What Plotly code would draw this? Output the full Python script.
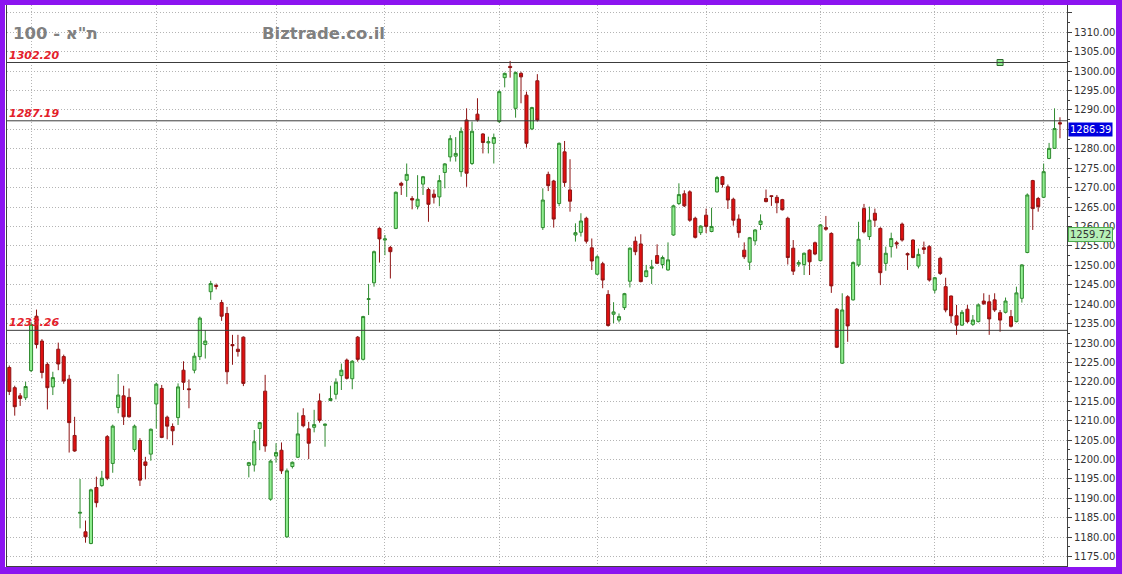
import plotly.graph_objects as go

# ---------------- data ----------------
opens = [1223.7, 1218.5, 1216.4, 1215.9, 1222.9, 1236.9, 1230.5, 1224.5, 1218.7, 1228.4,
         1226.5, 1220.7, 1206.2, 1186.2, 1181.4, 1178.4, 1192.8, 1193.3, 1205.9, 1199.0,
         1213.4, 1216.4, 1216.0, 1202.6, 1204.9, 1199.4, 1201.4, 1214.3, 1218.3, 1210.9,
         1208.5, 1210.8, 1223.0, 1218.2, 1223.0, 1226.5, 1229.6, 1243.2, 1244.8, 1240.4,
         1237.6, 1229.6, 1228.4, 1231.5, 1198.5, 1198.6, 1208.0, 1217.6, 1189.8, 1200.9,
         1202.4, 1180.1, 1198.2, 1200.6, 1211.3, 1207.9, 1208.3, 1215.1, 1208.8, 1215.2,
         1216.8, 1221.6, 1225.6, 1220.8, 1231.5, 1225.8, 1241.2, 1245.5, 1259.5, 1256.5,
         1254.6, 1259.5, 1271.1, 1271.9, 1267.2, 1265.2, 1270.9, 1269.5, 1268.3, 1267.6,
         1273.9, 1277.9, 1278.1, 1274.1, 1287.4, 1276.2, 1288.9, 1283.8, 1281.5, 1281.4,
         1287.0, 1298.3, 1301.2, 1290.4, 1299.4, 1293.8, 1285.1, 1297.5, 1259.7, 1273.4,
         1271.7, 1265.9, 1279.2, 1269.4, 1257.8, 1258.5, 1262.1, 1254.5, 1247.7, 1250.4,
         1242.5, 1237.4, 1235.9, 1239.1, 1245.9, 1256.2, 1255.5, 1247.1, 1249.2, 1252.5,
         1250.2, 1248.8, 1257.8, 1265.9, 1268.4, 1268.9, 1262.1, 1258.4, 1262.9, 1258.7,
         1268.9, 1272.8, 1270.2, 1267.0, 1261.9, 1253.9, 1250.8, 1256.3, 1260.5, 1267.2,
         1267.9, 1267.5, 1266.9, 1262.1, 1254.4, 1250.3, 1250.2, 1253.9, 1255.8, 1251.2,
         1259.7, 1258.2, 1238.7, 1224.8, 1241.9, 1241.1, 1250.1, 1264.6, 1257.4, 1263.4,
         1259.5, 1250.5, 1254.8, 1255.8, 1260.6, 1253.0, 1256.5, 1249.8, 1254.5, 1254.8,
         1243.6, 1251.8, 1244.5, 1242.1, 1237.0, 1234.6, 1238.7, 1234.8, 1235.5, 1240.8,
         1240.6, 1241.1, 1237.8, 1237.9, 1236.8, 1235.5, 1241.5, 1253.3, 1271.8, 1267.2,
         1267.5, 1277.5, 1280.1, 1286.7]
highs = [1224.2, 1219.0, 1217.1, 1220.0, 1235.5, 1238.6, 1231.0, 1225.0, 1222.6, 1230.1,
         1227.0, 1221.8, 1211.0, 1195.0, 1184.3, 1192.5, 1195.6, 1197.1, 1206.3, 1209.0,
         1222.0, 1219.0, 1218.3, 1209.0, 1205.5, 1200.7, 1208.0, 1219.8, 1219.2, 1211.3,
         1209.3, 1219.6, 1225.3, 1220.6, 1227.5, 1236.8, 1233.3, 1246.0, 1245.3, 1241.1,
         1239.3, 1232.1, 1232.1, 1231.7, 1199.4, 1207.6, 1209.7, 1221.8, 1200.0, 1204.2,
         1204.4, 1197.7, 1199.5, 1212.1, 1213.2, 1209.7, 1212.8, 1217.0, 1209.3, 1219.0,
         1220.9, 1224.7, 1226.0, 1225.6, 1231.8, 1237.0, 1245.2, 1253.8, 1259.8, 1257.8,
         1255.0, 1269.0, 1271.5, 1276.2, 1267.8, 1273.2, 1273.0, 1270.0, 1269.5, 1273.2,
         1276.3, 1283.5, 1283.0, 1285.5, 1290.4, 1287.0, 1293.0, 1284.0, 1283.1, 1283.9,
         1295.1, 1299.6, 1302.6, 1299.9, 1299.8, 1294.7, 1290.8, 1299.2, 1269.8, 1274.1,
         1272.0, 1281.6, 1282.0, 1277.3, 1260.8, 1263.4, 1262.5, 1256.9, 1252.6, 1250.9,
         1243.6, 1240.5, 1237.6, 1242.9, 1254.6, 1257.4, 1258.0, 1250.1, 1251.4, 1255.4,
         1252.5, 1255.9, 1265.6, 1271.1, 1269.3, 1269.3, 1262.5, 1260.3, 1264.6, 1264.8,
         1273.0, 1273.0, 1270.8, 1267.4, 1263.1, 1255.9, 1257.3, 1259.3, 1263.1, 1269.5,
         1268.0, 1268.1, 1267.1, 1262.5, 1256.5, 1251.3, 1253.3, 1254.1, 1256.1, 1260.6,
         1262.7, 1258.5, 1239.0, 1242.8, 1242.3, 1251.0, 1261.2, 1265.8, 1265.1, 1264.6,
         1259.8, 1254.8, 1258.4, 1256.3, 1261.0, 1253.3, 1256.7, 1254.3, 1256.1, 1255.2,
         1247.0, 1252.2, 1246.8, 1242.2, 1239.8, 1238.5, 1239.8, 1237.2, 1240.2, 1242.8,
         1242.4, 1242.8, 1238.5, 1241.7, 1238.5, 1244.5, 1250.3, 1268.5, 1272.0, 1267.6,
         1276.2, 1281.5, 1290.4, 1288.1]
lows = [1216.6, 1211.3, 1213.8, 1215.3, 1222.5, 1228.6, 1220.9, 1212.9, 1216.6, 1223.0,
        1219.5, 1201.8, 1202.0, 1182.3, 1178.6, 1178.2, 1187.7, 1193.0, 1194.7, 1196.6,
        1211.9, 1208.9, 1210.8, 1202.0, 1193.2, 1194.9, 1199.7, 1208.0, 1205.5, 1205.2,
        1203.7, 1208.9, 1217.9, 1213.2, 1222.2, 1225.6, 1226.0, 1241.1, 1243.8, 1235.7,
        1219.4, 1224.4, 1226.5, 1218.9, 1195.4, 1196.9, 1202.4, 1202.0, 1189.4, 1199.2,
        1196.3, 1179.9, 1197.7, 1200.4, 1208.3, 1200.1, 1207.0, 1209.5, 1203.3, 1215.0,
        1215.5, 1217.9, 1220.6, 1218.1, 1225.2, 1225.5, 1237.2, 1244.5, 1250.7, 1252.6,
        1246.6, 1259.3, 1268.1, 1267.6, 1264.4, 1264.4, 1268.1, 1261.2, 1265.9, 1265.2,
        1269.8, 1276.7, 1276.7, 1272.8, 1270.2, 1275.8, 1287.0, 1278.8, 1278.8, 1276.2,
        1286.6, 1295.8, 1298.3, 1288.0, 1291.7, 1280.3, 1284.8, 1287.0, 1259.1, 1269.1,
        1259.7, 1265.2, 1270.2, 1263.8, 1256.1, 1257.4, 1255.6, 1248.8, 1247.5, 1244.1,
        1234.2, 1235.1, 1235.3, 1238.5, 1244.3, 1252.6, 1245.6, 1246.9, 1245.2, 1250.3,
        1249.2, 1248.6, 1257.6, 1265.5, 1265.0, 1261.2, 1256.9, 1257.8, 1258.3, 1258.5,
        1268.7, 1270.0, 1264.5, 1260.2, 1257.1, 1251.6, 1248.8, 1255.2, 1259.1, 1266.2,
        1265.3, 1263.4, 1264.1, 1250.2, 1247.5, 1249.6, 1247.5, 1247.5, 1252.6, 1251.0,
        1258.9, 1242.9, 1228.7, 1224.6, 1230.3, 1240.9, 1249.6, 1258.2, 1256.5, 1259.9,
        1244.9, 1248.6, 1252.0, 1254.3, 1256.1, 1248.8, 1251.8, 1249.2, 1252.9, 1245.8,
        1242.8, 1247.5, 1237.9, 1235.1, 1232.1, 1234.4, 1235.1, 1234.4, 1235.3, 1239.8,
        1232.1, 1238.0, 1232.9, 1237.6, 1234.0, 1235.3, 1240.4, 1253.1, 1259.1, 1263.8,
        1267.3, 1277.3, 1280.0, 1282.7]
closes = [1217.5, 1213.6, 1215.7, 1218.8, 1234.8, 1229.6, 1222.4, 1218.5, 1221.1, 1224.6,
          1220.2, 1209.5, 1202.2, 1186.4, 1180.1, 1192.2, 1188.9, 1195.2, 1195.2, 1208.6,
          1216.6, 1211.0, 1211.0, 1208.6, 1194.7, 1198.5, 1207.8, 1219.4, 1205.7, 1208.6,
          1207.4, 1218.7, 1219.9, 1218.0, 1226.6, 1236.4, 1230.5, 1245.3, 1244.6, 1236.9,
          1222.6, 1229.3, 1227.8, 1219.6, 1199.2, 1204.6, 1209.5, 1203.5, 1199.6, 1201.8,
          1197.1, 1197.1, 1199.3, 1206.6, 1208.7, 1204.2, 1209.0, 1210.1, 1209.1, 1215.7,
          1219.9, 1223.0, 1220.9, 1225.3, 1225.8, 1236.8, 1241.4, 1253.5, 1256.8, 1256.8,
          1253.5, 1268.8, 1270.6, 1273.4, 1266.8, 1267.0, 1272.8, 1265.7, 1267.5, 1271.8,
          1276.1, 1282.6, 1278.8, 1284.5, 1273.7, 1284.5, 1287.4, 1281.6, 1281.8, 1282.9,
          1294.7, 1299.4, 1300.9, 1299.6, 1298.5, 1281.4, 1290.6, 1287.4, 1266.8, 1270.5,
          1261.9, 1281.4, 1271.3, 1266.5, 1258.4, 1261.4, 1256.2, 1251.1, 1252.2, 1246.2,
          1234.5, 1238.0, 1236.8, 1242.7, 1254.4, 1253.5, 1245.8, 1248.6, 1249.6, 1250.5,
          1252.0, 1251.4, 1265.3, 1268.2, 1265.3, 1261.6, 1257.2, 1260.1, 1260.0, 1260.0,
          1272.6, 1270.8, 1266.8, 1261.6, 1258.4, 1252.2, 1257.1, 1259.1, 1261.4, 1266.4,
          1267.7, 1266.1, 1264.3, 1252.0, 1248.5, 1250.7, 1253.1, 1250.9, 1252.9, 1260.4,
          1259.3, 1244.7, 1228.9, 1238.5, 1234.4, 1250.7, 1256.7, 1258.6, 1261.6, 1261.6,
          1248.1, 1253.1, 1256.9, 1255.5, 1256.5, 1252.7, 1252.0, 1252.8, 1254.1, 1246.2,
          1246.8, 1247.9, 1238.5, 1237.0, 1234.6, 1237.9, 1235.5, 1235.9, 1239.8, 1240.1,
          1236.2, 1238.5, 1235.9, 1240.8, 1234.3, 1242.9, 1250.1, 1268.1, 1264.6, 1265.1,
          1274.1, 1280.1, 1285.2, 1286.39]
idx = list(range(len(opens)))

month_grid = [4, 27, 49, 69, 90, 108, 128, 149, 170, 190]
y_ticks = [1175, 1180, 1185, 1190, 1195, 1200, 1205, 1210, 1215, 1220, 1225, 1230,
           1235, 1240, 1245, 1250, 1255, 1260, 1265, 1270, 1275, 1280, 1285, 1290,
           1295, 1300, 1305, 1310, 1315]
# labels hidden in the reference (1285 sits under the last-price box, 1315 is unlabeled)
hidden_labels = [1285, 1315]
y_labels = ["" if v in hidden_labels else "%.2f" % v for v in y_ticks]

level_values = [1302.20, 1287.19, 1233.26]
level_labels = ["1302.20", "1287.19", "1233.26"]
anchor_x = [182]
anchor_y = [1302.20]
last_price = 1286.39
side_value = 1259.72
title_text = 'ת"א - 100'
site_text = "Biztrade.co.il"

# ---------------- geometry ----------------
W, H = 1122, 574
ML, MR, MT, MB = 7, 55, 5, 8
PW, PH = W - ML - MR, H - MT - MB


def px_x(px):
    return (px - ML) / PW


def px_y(py):
    return 1 - (py - MT) / PH


fig = go.Figure()
fig.add_trace(go.Candlestick(
    x=idx, open=opens, high=highs, low=lows, close=closes,
    increasing=dict(fillcolor="#90ee90", line=dict(color="#2f8a2f", width=1)),
    decreasing=dict(fillcolor="#e01010", line=dict(color="#8e1414", width=1)),
    whiskerwidth=0, showlegend=False, hoverinfo="skip"))
fig.add_trace(go.Scatter(
    x=anchor_x, y=anchor_y, mode="markers",
    marker=dict(symbol="square", size=6, color="#90ee90",
                line=dict(color="#2f6a2f", width=1)),
    showlegend=False, hoverinfo="skip"))

GRID = "#b4b4b4"
fig.update_layout(
    width=W, height=H,
    margin=dict(l=ML, r=MR, t=MT, b=MB, autoexpand=False),
    paper_bgcolor="white", plot_bgcolor="white",
    boxgap=0.2, showlegend=False,
    font=dict(family="DejaVu Sans", size=10, color="#333333"),
)
fig.update_xaxes(
    range=[-0.42, 194.29], rangeslider_visible=False,
    tickmode="array", tickvals=month_grid, showticklabels=False, ticks="",
    showgrid=True, gridcolor=GRID, griddash="1px,2px", gridwidth=1,
    zeroline=False, showline=True, linecolor="#404040", linewidth=1,
    fixedrange=True)
fig.update_yaxes(
    range=[1172.6, 1317.0], side="right",
    tickmode="array", tickvals=y_ticks, ticktext=y_labels,
    tickfont=dict(family="DejaVu Sans", size=10, color="#333333"),
    ticks="outside", ticklen=4, tickcolor="#404040",
    showgrid=True, gridcolor=GRID, griddash="1px,2px", gridwidth=1,
    showline=True, mirror=True, linecolor="#404040", linewidth=1,
    zeroline=False, automargin=False,
    minor=dict(tickmode="linear", tick0=1172.5, dtick=5, ticks="outside",
               ticklen=2, tickcolor="#404040", showgrid=False))

# horizontal level lines and their labels
for val, lab in zip(level_values, level_labels):
    fig.add_shape(type="line", xref="paper", x0=0, x1=1, yref="y", y0=val, y1=val,
                  line=dict(color="#3c3c3c", width=1), layer="above")
    fig.add_annotation(xref="paper", x=0, xanchor="left", xshift=1,
                       yref="y", y=val, yanchor="bottom", yshift=0,
                       text="<b><i>%s</i></b>" % lab, showarrow=False, borderpad=0,
                       font=dict(family="DejaVu Sans", size=11, color="#e3202a"))

# title texts
fig.add_annotation(xref="paper", x=px_x(11), xanchor="left", yref="paper", y=px_y(33),
                   yanchor="middle", text="<b>%s</b>" % title_text, showarrow=False,
                   font=dict(family="DejaVu Sans", size=16.5, color="#808080"))
fig.add_annotation(xref="paper", x=px_x(260), xanchor="left", yref="paper", y=px_y(33),
                   yanchor="middle", text="<b>%s</b>" % site_text, showarrow=False,
                   font=dict(family="DejaVu Sans", size=16.5, color="#808080"))

# value boxes on the price axis
fig.add_annotation(xref="paper", x=1, xanchor="left", xshift=1, yref="y", y=last_price,
                   yanchor="top", yshift=2, text="%.2f" % last_price, showarrow=False,
                   bgcolor="#0000e0", borderpad=1,
                   font=dict(family="DejaVu Sans", size=10, color="white"))
fig.add_annotation(xref="paper", x=1, xanchor="left", xshift=1, yref="y", y=side_value,
                   yanchor="top", yshift=1, text="%.2f" % side_value, showarrow=False,
                   bgcolor="#b6f0b6", bordercolor="#4caa4c", borderwidth=1, borderpad=1,
                   font=dict(family="DejaVu Sans", size=10, color="#333333"))

# purple frame
PURPLE = "#8c14f0"
frame = [
    (px_x(-2), px_x(5), px_y(-2), px_y(577)),
    (px_x(1116), px_x(1125), px_y(-2), px_y(577)),
    (px_x(-2), px_x(1125), px_y(-2), px_y(5)),
    (px_x(-2), px_x(1125), px_y(567), px_y(577)),
]
for x0, x1, y0, y1 in frame:
    fig.add_shape(type="rect", xref="paper", yref="paper", x0=x0, x1=x1, y0=y0, y1=y1,
                  fillcolor=PURPLE, line=dict(width=0), layer="above")

fig.write_html("out.html", config={"displayModeBar": False},
               post_script="document.body.style.margin='0';document.body.style.padding='0';")
